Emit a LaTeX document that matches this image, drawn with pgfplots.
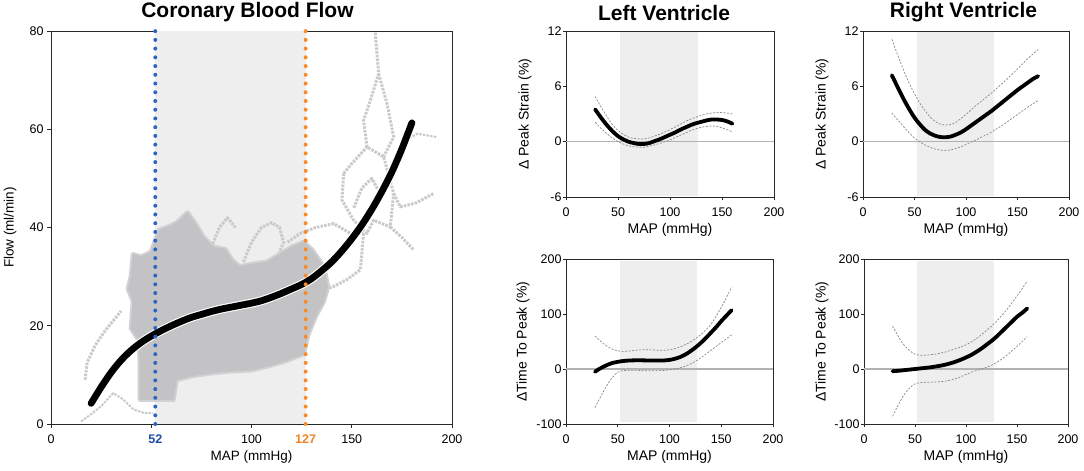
\documentclass[border=0pt]{standalone}
\usepackage{pgfplots}
\pgfplotsset{compat=1.18}
\usepackage{fontspec}
\setmainfont{Liberation Sans}
\definecolor{shade}{RGB}{238,238,238}
\definecolor{cloud}{RGB}{195,194,197}
\definecolor{halo}{RGB}{210,210,212}
\definecolor{trail}{RGB}{202,202,204}
\definecolor{myblue}{RGB}{45,100,200}
\definecolor{myorange}{RGB}{245,140,40}
\definecolor{lblue}{RGB}{30,75,165}
\definecolor{lorange}{RGB}{240,130,40}
\definecolor{zline}{RGB}{178,178,178}
\definecolor{ci}{RGB}{135,135,135}
\definecolor{frame}{RGB}{40,40,40}
\newcommand{\tickfont}{\fontsize{12.5bp}{15bp}\selectfont}
\newcommand{\labfont}{\fontsize{13.5bp}{16bp}\selectfont}
\newcommand{\slabfont}{\fontsize{14bp}{17bp}\selectfont}
\newcommand{\titfont}{\fontsize{21bp}{25bp}\selectfont\bfseries}
\pgfplotsset{
  base/.style={scale only axis, axis line style={frame,line width=0.8bp},
    tick style={frame,line width=0.8bp}, tick align=outside, major tick length=4bp,
    xtick pos=bottom, ytick pos=left, ticklabel style={font=\tickfont},
    xmin=0, xmax=200, xlabel={MAP (mmHg)}},
  small/.style={base, label style={font=\slabfont}, major tick length=3bp,
    xtick={0,50,100,150,200}, xticklabels={0,50,100,150,200},
    xticklabel style={yshift=-4bp}, yticklabel style={xshift=2bp},
    xlabel style={at={(axis description cs:0.5,-0.199)}, anchor=center}},
  strain/.style={small, ymin=-6, ymax=12, ytick={-6,0,6,12}, yticklabels={-6,0,6,12}},
  ttp/.style={small, ymin=-100, ymax=200, ytick={-100,0,100,200}, yticklabels={-100,0,100,200}},
  fit/.style={black, line width=3.8bp, smooth, line cap=round},
  band/.style={ci, line width=0.7bp, dash pattern=on 2bp off 1.5bp, smooth},
  zl/.style={zline, line width=1.3bp},
  tr/.style={trail, line width=3bp, line join=round, dash pattern=on 2.5bp off 1.2bp},
  ttl/.style={title style={at={(axis description cs:0.5,1)}, anchor=center, yshift=12.5bp, font=\titfont}},
}
\begin{document}
\begin{tikzpicture}
\path[use as bounding box] (0,0) rectangle (1084bp,471bp);
% ---------------- main panel
\begin{axis}[base, at={(51bp,47bp)}, anchor=south west, width=401bp, height=393bp,
  ymin=0, ymax=80, ytick={0,20,40,60,80}, yticklabels={0,20,40,60,80},
  xtick={0,50,100,150,200}, xticklabels={0,,100,150,200},
  xticklabel style={yshift=-3bp},
  extra x ticks={52,127}, extra x tick labels={\textcolor{lblue}{\bfseries 52},\textcolor{lorange}{\bfseries 127}},
  extra x tick style={major tick length=0pt, xticklabel style={yshift=-4bp}},
  label style={font=\labfont},
  xlabel style={at={(axis description cs:0.5,-0.084)}, anchor=center},
  ylabel={Flow (ml/min)}, ylabel style={at={(axis description cs:-0.102,0.5)}, anchor=center},
  title={Coronary Blood Flow}, ttl, title style={xshift=-4bp},
  clip=false]
\addplot[fill=shade, draw=none] coordinates {(52,0) (127,0) (127,80) (52,80)} -- cycle;
% sparse trails
\addplot[tr] coordinates {(17,9) (18,12.5) (22,16) (27,19) (31,21) (35,23)};
\addplot[tr, line width=2bp] coordinates {(15,0.5) (20,2) (25,3.6) (31,6.3) (36,5) (41,3) (46,2.3) (51,2.2)};
\addplot[tr] coordinates {(96,33) (100,37) (105,40) (110,41) (114,40) (116,37) (113,34)};
\addplot[tr] coordinates {(80,36) (84,40) (88,42) (92,40)};
\addplot[tr] coordinates {(118,37) (124.3,38.8) (132,40) (141,40.8) (149.3,38.8) (155.9,38.8)};
\addplot[tr] coordinates {(118,25) (124.3,26.6) (133,27) (141,28) (148,29.5) (154.3,31.4) (155.9,38.8)};
\addplot[tr] coordinates {(146,51) (145.1,45.6) (150.9,41.5) (157.6,38.8) (160.9,41.5) (169.2,40.1) (170.9,46.9) (165.9,54.4) (157.6,56.4) (155.9,61.8) (159.3,65.9) (163.4,71.3) (161.7,79.8)};
\addplot[tr] coordinates {(163.4,71.3) (167.6,65.2) (170.9,58.4) (165.9,54.4)};
\addplot[tr] coordinates {(146,51) (150,53) (157.6,56.4)};
\addplot[tr] coordinates {(151,44) (155,48) (160,50) (164,47)};
\addplot[tr] coordinates {(170.9,46.9) (174.2,44.2) (182,45) (190.8,46.9)};
\addplot[tr, line width=2bp] coordinates {(174,57) (182.6,59.1) (192.5,58.4)};
\addplot[tr] coordinates {(169.2,40.1) (175,38) (180.9,35.4)};
% dense cloud
\addplot[fill=halo, draw=halo, line width=5bp, line join=round] coordinates {
(44.5,5) (61,5) (62.5,9) (70,9.8) (80,10.4) (90,10.8) (100,11) (110,12) (118,13) (126,14.3)
(128,18) (132,22) (136,25) (138,28) (136,32) (130,35.5) (126,37) (120,36) (114,34.5) (108,33)
(100,32.5) (94,32) (90,33.5) (87,35.5) (81,36) (76,38) (72,40.8) (68,43) (63,41) (58,40) (54,39.5) (50,35)
(45,34) (41,34.5) (40,30) (38.5,27.5) (41,25) (40,19.5) (44,17) (44.5,12)} -- cycle;
\addplot[fill=cloud, draw=cloud, line width=1bp, line join=round] coordinates {
(44.5,5) (61,5) (62.5,9) (70,9.8) (80,10.4) (90,10.8) (100,11) (110,12) (118,13) (126,14.3)
(128,18) (132,22) (136,25) (138,28) (136,32) (130,35.5) (126,37) (120,36) (114,34.5) (108,33)
(100,32.5) (94,32) (90,33.5) (87,35.5) (81,36) (76,38) (72,40.8) (68,43) (63,41) (58,40) (54,39.5) (50,35)
(45,34) (41,34.5) (40,30) (38.5,27.5) (41,25) (40,19.5) (44,17) (44.5,12)} -- cycle;
% fit
\addplot[white, line width=9bp, smooth, line cap=round] coordinates {
(20,4.2) (25,7.5) (30,10.5) (35,13.0) (40,15.0) (45,16.6) (50,17.9) (55,19.0) (60,20.0)
(65,20.9) (70,21.7) (75,22.3) (80,22.9) (85,23.4) (90,23.8) (95,24.2) (100,24.6) (105,25.1)
(110,25.8) (115,26.6) (120,27.5) (125,28.4) (130,29.6) (135,31.2) (140,33.0) (145,35.2)
(150,37.7) (155,40.5) (160,43.7) (165,47.3) (170,51.3) (175,56.0) (180,61.3)};
\addplot[black, line width=6.8bp, smooth, line cap=round] coordinates {
(20,4.2) (25,7.5) (30,10.5) (35,13.0) (40,15.0) (45,16.6) (50,17.9) (55,19.0) (60,20.0)
(65,20.9) (70,21.7) (75,22.3) (80,22.9) (85,23.4) (90,23.8) (95,24.2) (100,24.6) (105,25.1)
(110,25.8) (115,26.6) (120,27.5) (125,28.4) (130,29.6) (135,31.2) (140,33.0) (145,35.2)
(150,37.7) (155,40.5) (160,43.7) (165,47.3) (170,51.3) (175,56.0) (180,61.3)};
% thresholds
\addplot[myblue, line width=4bp, line cap=round, dash pattern=on 0pt off 8.73bp] coordinates {(52,0) (52,80)};
\addplot[myorange, line width=4bp, line cap=round, dash pattern=on 0pt off 8.73bp] coordinates {(127,0) (127,80)};
\end{axis}
% ---------------- LV strain
\begin{axis}[strain, at={(566bp,274bp)}, anchor=south west, width=208bp, height=166bp,
  ylabel={Δ Peak Strain (\%)}, ylabel style={at={(axis description cs:-0.197,0.5)}, anchor=center},
  title={Left Ventricle}, ttl, title style={xshift=-6bp}]
\addplot[fill=shade, draw=none] coordinates {(52,-5.85) (127,-5.85) (127,11.85) (52,11.85)} -- cycle;
\addplot[zl] coordinates {(0,0) (200,0)};
\addplot[band] coordinates {(28,4.9) (35,3.5) (40,2.6) (45,1.8) (50,1.2) (55,0.8) (60,0.5) (65,0.35) (70,0.3) (75,0.3) (80,0.4) (85,0.6) (90,0.8) (95,1.05) (100,1.3) (105,1.6) (110,1.9) (115,2.2) (120,2.45) (125,2.65) (130,2.85) (135,3.0) (140,3.1) (145,3.15) (150,3.15) (155,3.1) (160,3.0)};
\addplot[band] coordinates {(28,2.1) (35,1.3) (40,0.8) (45,0.35) (50,0.0) (55,-0.25) (60,-0.45) (65,-0.55) (70,-0.6) (75,-0.6) (80,-0.5) (85,-0.35) (90,-0.2) (95,0.0) (100,0.2) (105,0.45) (110,0.7) (115,0.95) (120,1.2) (125,1.4) (130,1.55) (135,1.65) (140,1.7) (145,1.65) (150,1.5) (155,1.3) (160,1.05)};
\addplot[fit] coordinates {(28,3.5) (35,2.4) (40,1.7) (45,1.1) (50,0.6) (55,0.25) (60,0.0) (65,-0.15) (70,-0.25) (75,-0.25) (80,-0.15) (85,0.05) (90,0.25) (95,0.5) (100,0.75) (105,1.0) (110,1.3) (115,1.55) (120,1.8) (125,2.0) (130,2.15) (135,2.3) (140,2.4) (145,2.4) (150,2.35) (155,2.2) (160,1.95)};
\end{axis}
% ---------------- RV strain
\begin{axis}[strain, at={(863bp,274bp)}, anchor=south west, width=206bp, height=166bp,
  ylabel={Δ Peak Strain (\%)}, ylabel style={at={(axis description cs:-0.199,0.5)}, anchor=center},
  title={Right Ventricle}, ttl, title style={xshift=-2.5bp}]
\addplot[fill=shade, draw=none] coordinates {(52,-5.85) (127,-5.85) (127,11.85) (52,11.85)} -- cycle;
\addplot[zl] coordinates {(0,0) (200,0)};
\addplot[band] coordinates {(28,11.1) (35,9.0) (40,7.6) (45,6.3) (50,5.2) (55,4.2) (60,3.4) (65,2.7) (70,2.2) (75,1.9) (80,1.8) (85,1.85) (90,2.1) (95,2.5) (100,2.95) (105,3.45) (110,3.95) (115,4.4) (120,4.85) (125,5.3) (130,5.8) (135,6.3) (140,6.8) (145,7.35) (150,7.9) (155,8.45) (160,9.0) (165,9.5) (170,10.0)};
\addplot[band] coordinates {(28,3.1) (35,2.2) (40,1.55) (45,0.95) (50,0.4) (55,0.0) (60,-0.35) (65,-0.6) (70,-0.8) (75,-0.9) (80,-0.95) (85,-0.9) (90,-0.75) (95,-0.55) (100,-0.3) (105,-0.05) (110,0.2) (115,0.5) (120,0.75) (125,1.05) (130,1.4) (135,1.75) (140,2.15) (145,2.55) (150,2.95) (155,3.35) (160,3.75) (165,4.1) (170,4.45)};
\addplot[fit] coordinates {(28,7.2) (35,5.6) (40,4.5) (45,3.5) (50,2.6) (55,1.9) (60,1.3) (65,0.9) (70,0.65) (75,0.5) (80,0.48) (85,0.55) (90,0.75) (95,1.0) (100,1.35) (105,1.75) (110,2.15) (115,2.55) (120,2.95) (125,3.35) (130,3.8) (135,4.25) (140,4.7) (145,5.15) (150,5.6) (155,6.0) (160,6.4) (165,6.8) (170,7.1)};
\end{axis}
% ---------------- LV time to peak
\begin{axis}[ttp, at={(566bp,47bp)}, anchor=south west, width=207bp, height=165bp,
  ylabel={ΔTime To Peak (\%)}, ylabel style={at={(axis description cs:-0.208,0.5)}, anchor=center}]
\addplot[fill=shade, draw=none] coordinates {(52,-97) (127,-97) (127,197) (52,197)} -- cycle;
\addplot[zl] coordinates {(0,0) (200,0)};
\addplot[band] coordinates {(28,60) (35,48) (40,41) (45,36) (50,33) (55,32) (60,32.5) (65,33.5) (70,34.5) (75,35) (80,35) (85,34.5) (90,34) (95,34) (100,35) (105,37) (110,40) (115,44) (120,49) (125,55) (130,62) (135,71) (140,81) (145,96) (150,112) (155,130) (160,149)};
\addplot[band] coordinates {(28,-70) (35,-45) (40,-28) (45,-15) (50,-6) (55,-3) (60,-2.5) (65,-2.5) (70,-2.5) (75,-3) (80,-3) (85,-3) (90,-3) (95,-2.5) (100,-1.5) (105,0) (110,2) (115,5) (120,9) (125,14) (130,20) (135,27) (140,34) (145,41) (150,48) (155,55) (160,62)};
\addplot[fit] coordinates {(28,-5) (32,0) (35,3) (40,7.5) (45,11) (50,13) (55,14.5) (60,15.3) (65,15.7) (70,15.8) (75,15.7) (80,15.5) (85,15.3) (90,15.3) (95,15.6) (100,16.5) (105,18.5) (110,21.5) (115,26) (120,32) (125,39) (130,47) (135,56) (140,66) (145,76) (150,87) (155,97) (160,107)};
\end{axis}
% ---------------- RV time to peak
\begin{axis}[ttp, at={(864bp,47bp)}, anchor=south west, width=204bp, height=165bp,
  ylabel={ΔTime To Peak (\%)}, ylabel style={at={(axis description cs:-0.206,0.5)}, anchor=center}]
\addplot[fill=shade, draw=none] coordinates {(52,-97) (127,-97) (127,197) (52,197)} -- cycle;
\addplot[zl] coordinates {(0,0) (200,0)};
\addplot[band] coordinates {(28,78) (35,55) (40,42) (45,33) (50,27) (55,25) (60,25) (65,26) (70,27) (75,29) (80,31) (85,34) (90,37) (95,40) (100,44) (105,49) (110,55) (115,62) (120,70) (125,78) (130,87) (135,97) (140,108) (145,120) (150,133) (155,146) (160,160)};
\addplot[band] coordinates {(28,-86) (35,-60) (40,-45) (45,-34) (50,-27) (55,-25) (60,-24) (65,-24) (70,-23.5) (75,-23) (80,-22) (85,-20) (90,-17.5) (95,-14) (100,-10) (105,-6) (110,-3) (115,0) (120,3) (125,7) (130,12) (135,18) (140,25) (145,33) (150,41) (155,50) (160,59)};
\addplot[fit] coordinates {(28,-4) (35,-3) (40,-2) (45,-1) (50,0) (55,1) (60,2) (65,3) (70,4.5) (75,6) (80,8) (85,10.5) (90,13.5) (95,17) (100,21) (105,25.5) (110,31) (115,37) (120,44) (125,51) (130,59) (135,68) (140,77) (145,86) (150,95) (155,102) (160,110)};
\end{axis}
\end{tikzpicture}
\end{document}
